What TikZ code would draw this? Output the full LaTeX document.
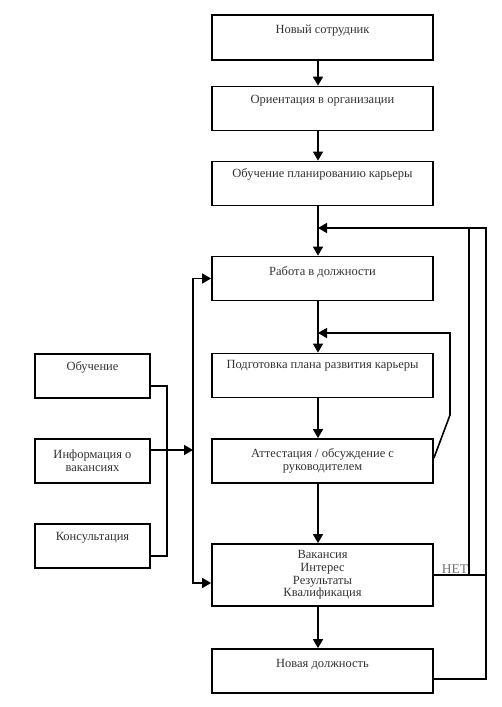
\documentclass[tikz,border=0pt]{standalone}
\usepackage{fontspec}
\setmainfont{Liberation Serif}
\usetikzlibrary{arrows.meta}

\begin{document}
\begin{tikzpicture}[x=1pt,y=-1pt,
    box/.style={draw,line width=1.8pt,minimum width=221pt,minimum height=44pt,
      inner sep=0pt,align=center,text=black!80,font=\fontsize{12.5}{12.7}\selectfont},
    side/.style={box,minimum width=115pt},
    lift/.style={text height=8pt,text depth=#1},
    link/.style={line width=1.6pt},
    arrow/.style={link,-{Triangle[length=9pt,width=10pt]}},
    both/.style={link,{Triangle[length=9pt,width=10pt]}-{Triangle[length=9pt,width=10pt]}}]
  \useasboundingbox (0,0) rectangle (502,707);

  \node[box,lift=16pt,minimum height=45pt] (newemp) at (322.5,37.5) {Новый сотрудник};
  \node[box,lift=18pt] (orient) at (322.5,108.5) {Ориентация в организации};
  \node[box,lift=21pt] (train) at (322.5,183.5) {Обучение планированию карьеры};
  \node[box,lift=14pt] (job) at (322.5,278.5) {Работа в должности};
  \node[box,lift=23pt] (plan) at (322.5,375.5) {Подготовка плана развития карьеры};
  \node[box] (review) at (322.5,461) {Аттестация / обсуждение с\\руководителем};
  \node[box,minimum height=62pt] (check) at (322.5,575) {Вакансия\\Интерес\\Результаты\\Квалификация};
  \node[box,lift=15pt] (newpos) at (322.5,671) {Новая должность};

  \node[side,lift=19pt] (course) at (92.5,376) {Обучение};
  \node[side] (info) at (92.5,461) {Информация о\\вакансиях};
  \node[side,lift=19pt] (consult) at (92.5,546) {Консультация};

  \node[text=black!55,font=\fontsize{13.5}{14}\selectfont] (no) at (455,569) {НЕТ};

  \coordinate (fork) at (167,470);
  \coordinate (bus) at (193,400);
  \coordinate (infoin) at (193,450);
  \coordinate (loopA) at (450,415);
  \coordinate (loopB) at (450,333);
  \coordinate (join1) at (318,333);
  \coordinate (outer) at (486,400);
  \coordinate (inner) at (469,400);
  \coordinate (join2) at (318,228);

  \foreach \a/\b in {newemp/orient,orient/train,train/job,job/plan,plan/review,review/check,check/newpos}
    \draw[arrow] ([xshift=-4.5pt]\a.south) -- ([xshift=-4.5pt]\b.north);

  \draw[link] ([yshift=-10pt]course.east) -| (fork) |- ([yshift=-10pt]consult.east);
  \draw[arrow] ([yshift=11pt]info.east) -- (infoin);
  \draw[both] (job.west) -| (bus) |- ([yshift=-8pt]check.west);

  \draw[arrow] ([yshift=3pt]review.east) -- (loopA) -- (loopB) -- (join1);
  \draw[arrow] ([yshift=-8pt]newpos.east) -| (outer) |- (join2);
  \draw[link] (check.east) -- (check.east -| outer);
  \draw[link] (check.east -| inner) -- (inner |- join2);
\end{tikzpicture}
\end{document}
